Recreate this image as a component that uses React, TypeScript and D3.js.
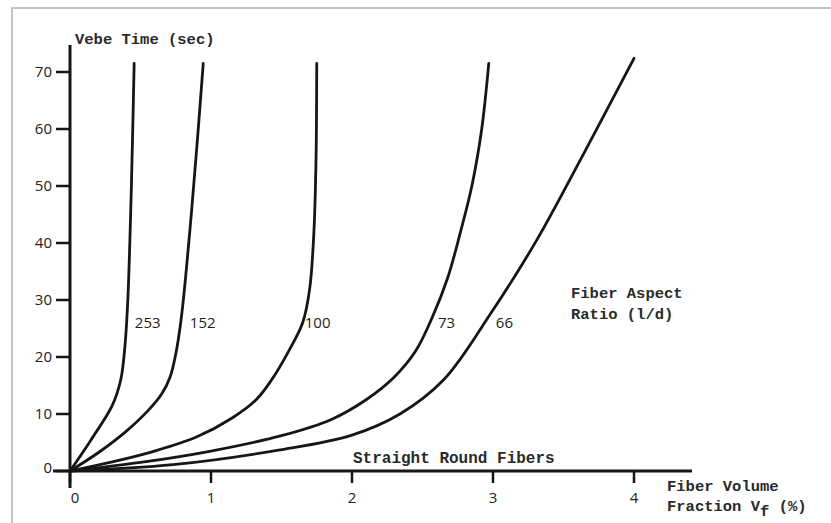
import * as d3 from 'd3';
import { useEffect, useRef } from 'react';

// tick values
const xTicks = [0, 1, 2, 3, 4];
const yTicks = [0, 10, 20, 30, 40, 50, 60, 70];

// fiber aspect ratio labels
const ratios = ['253', '152', '100', '73', '66'];

// fiber volume fraction (%) vs vebe time (sec)
const vf253 = [0, 0.15, 0.3, 0.36, 0.39, 0.41, 0.43, 0.445, 0.455];
const vebe253 = [0, 5.5, 11.5, 16, 22, 30, 45, 60, 71.5];

const vf152 = [0, 0.2, 0.4, 0.55, 0.65, 0.71, 0.75, 0.785, 0.82, 0.86, 0.9, 0.945];
const vebe152 = [0, 3.2, 7, 10.5, 13.5, 16.5, 20.5, 26, 34, 45, 57, 71.5];

const vf100 = [0, 0.3, 0.6, 0.9, 1.15, 1.32, 1.43, 1.55, 1.65, 1.7, 1.73, 1.745, 1.75];
const vebe100 = [0, 1.6, 3.5, 6, 9.3, 12.5, 16, 21, 26, 32, 42, 55, 71.5];

const vf73 = [0, 0.5, 1.0, 1.5, 1.85, 2.1, 2.3, 2.45, 2.57, 2.68, 2.77, 2.85, 2.92, 2.97];
const vebe73 = [0, 1.5, 3.5, 6.2, 9, 12.5, 16.5, 21, 27, 34, 42, 50, 60, 71.5];

const vf66 = [0, 0.73, 1.49, 2.0, 2.34, 2.65, 2.98, 3.31, 3.65, 4.0];
const vebe66 = [0, 1.1, 3.7, 6.3, 10, 16, 27.5, 40.5, 56, 72.4];

const curves = [
  { x: vf253, y: vebe253 },
  { x: vf152, y: vebe152 },
  { x: vf100, y: vebe100 },
  { x: vf73, y: vebe73 },
  { x: vf66, y: vebe66 },
];

// where the ratio labels sit (data units)
const labelVf = [0.46, 0.85, 1.665, 2.61, 3.02];
const labelVebe = 26;

const mono = '"Liberation Mono", "DejaVu Sans Mono", monospace';
const sans = '"Open Sans", "DejaVu Sans", sans-serif';
const ink = '#161616';

const App = () => {
  const ref = useRef<SVGSVGElement>(null);

  useEffect(() => {
    const svg = d3.select(ref.current);
    svg.selectAll('*').remove();

    const x = d3.scaleLinear().domain([0, 4]).range([70, 634]);
    const y = d3.scaleLinear().domain([0, 70]).range([471, 72]);

    // scanned page frame
    svg.append('rect')
      .attr('x', 12).attr('y', 8)
      .attr('width', 900).attr('height', 600)
      .attr('fill', 'white')
      .attr('stroke', '#c4c4c4')
      .attr('stroke-width', 2);

    const g = svg.append('g');

    // y axis
    g.append('line')
      .attr('x1', x(0)).attr('x2', x(0))
      .attr('y1', 45).attr('y2', 488)
      .attr('stroke', ink).attr('stroke-width', 3);
    g.selectAll('.ytick')
      .data(yTicks)
      .enter()
      .append('line')
      .attr('x1', x(0) - 14).attr('x2', x(0))
      .attr('y1', (d) => y(d)).attr('y2', (d) => y(d))
      .attr('stroke', ink).attr('stroke-width', 2.5);
    g.selectAll('.ylab')
      .data(yTicks)
      .enter()
      .append('text')
      .attr('x', x(0) - 18)
      .attr('y', (d) => y(d) + (d === 0 ? 2 : 5))
      .attr('text-anchor', 'end')
      .style('font-family', sans)
      .style('font-size', '15px')
      .attr('fill', '#222')
      .text((d) => d);

    // x axis
    g.append('line')
      .attr('x1', 53).attr('x2', 692)
      .attr('y1', y(0)).attr('y2', y(0))
      .attr('stroke', ink).attr('stroke-width', 3);
    g.selectAll('.xtick')
      .data(xTicks)
      .enter()
      .append('line')
      .attr('x1', (d) => x(d)).attr('x2', (d) => x(d))
      .attr('y1', y(0)).attr('y2', y(0) + 12)
      .attr('stroke', ink).attr('stroke-width', 2.5);
    g.selectAll('.xlab')
      .data(xTicks)
      .enter()
      .append('text')
      .attr('x', (d) => x(d) + (d === 0 ? 5 : 0))
      .attr('y', y(0) + 32)
      .attr('text-anchor', 'middle')
      .style('font-family', sans)
      .style('font-size', '15px')
      .attr('fill', '#222')
      .text((d) => d);

    // curves
    const line = d3
      .line<[number, number]>()
      .x((d) => x(d[0]))
      .y((d) => y(d[1]))
      .curve(d3.curveCatmullRom.alpha(0.5));

    curves.forEach((c) => {
      const pts = c.x.map((v, i) => [v, c.y[i]] as [number, number]);
      g.append('path')
        .attr('d', line(pts) as string)
        .attr('fill', 'none')
        .attr('stroke', ink)
        .attr('stroke-width', 2.8)
        .attr('stroke-linecap', 'round');
    });

    g.selectAll('.ratio')
      .data(ratios)
      .enter()
      .append('text')
      .attr('x', (d, i) => x(labelVf[i]))
      .attr('y', y(labelVebe) + 5)
      .style('font-family', sans)
      .style('font-size', '15px')
      .attr('fill', '#222')
      .text((d) => d);

    const mtext = (tx: number, ty: number, s: string, size = 15.5) =>
      g.append('text')
        .attr('x', tx).attr('y', ty)
        .style('font-family', mono)
        .style('font-size', size + 'px')
        .style('font-weight', 'bold')
        .attr('fill', '#2a2a2a')
        .text(s);

    mtext(75, 44, 'Vebe Time (sec)');
    mtext(571, 298, 'Fiber Aspect');
    mtext(571, 319, 'Ratio (l/d)');
    mtext(353, 463, 'Straight Round Fibers', 16);
    mtext(667, 491, 'Fiber Volume');

    const fr = g.append('text')
      .attr('x', 667).attr('y', 511)
      .style('font-family', mono)
      .style('font-size', '15.5px')
      .style('font-weight', 'bold')
      .attr('fill', '#2a2a2a');
    fr.append('tspan').text('Fraction V');
    fr.append('tspan').attr('dy', 5).text('f');
    fr.append('tspan').attr('dy', -5).text(' (%)');
  }, []);

  return (
    <div style={{ position: 'fixed', left: 0, top: 0 }}>
      <svg ref={ref} width={831} height={523} style={{ display: 'block', background: 'white' }}></svg>
    </div>
  );
};

export default App;
